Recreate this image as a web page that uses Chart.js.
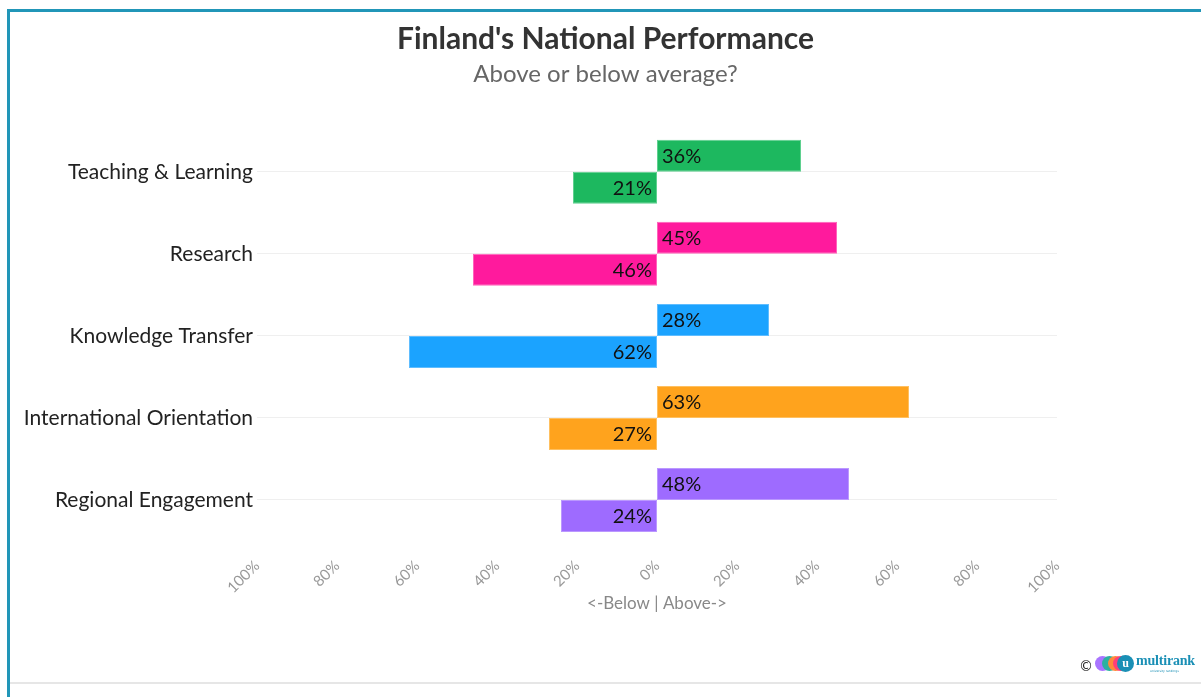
<!DOCTYPE html>
<html>
<head>
<meta charset="utf-8">
<script src="https://cdn.jsdelivr.net/npm/chart.js@4"></script>
<style>
  html, body { margin:0; padding:0; background:#fff; width:1201px; height:697px; overflow:hidden; }
  #frame { position:absolute; left:7px; top:9px; width:1194px; height:688px; border-top:3px solid #2196b8; border-left:3px solid #2196b8; box-sizing:border-box; }
  #bottomline { position:absolute; left:10px; top:682px; width:1191px; height:2px; background:#e6e6e6; }
  #wrap { position:absolute; left:10px; top:12px; width:1191px; height:671px; }
  #logo { position:absolute; left:0; top:0; }
  #logo span { position:absolute; white-space:nowrap; }
  #logo .c { left:1079px; top:658px; font-size:14px; line-height:16px; color:#222; font-family:"DejaVu Sans", sans-serif; }
  #logo .dot { top:656px; width:15px; height:15px; border-radius:50%; }
  #logo .u { left:1117px; top:655px; width:17px; height:17px; border-radius:50%; background:#1a8fb5; color:#fff; font-size:12px; line-height:16px; font-weight:bold; text-align:center; font-family:"Liberation Serif", serif; }
  #logo .name { left:1136px; top:653px; font-family:"Liberation Serif", serif; font-weight:bold; color:#1a8fb5; font-size:14px; line-height:16px; letter-spacing:-0.2px; }
  #logo .tag { left:1150px; top:669px; font-family:"DejaVu Sans", sans-serif; color:#1a8fb5; font-size:3px; line-height:4px; }
</style>
</head>
<body>
<div id="frame"></div>
<div id="bottomline"></div>
<div id="wrap"><canvas id="c" width="1191" height="671"></canvas></div>
<div id="logo">
  <span class="c">©</span>
  <span class="dot" style="left:1095px;background:#a974ff"></span>
  <span class="dot" style="left:1102px;background:#2cb1a0"></span>
  <span class="dot" style="left:1108px;background:#ff8a3a"></span>
  <span class="dot" style="left:1113px;background:#ff3e7a"></span>
  <span class="u">u</span>
  <span class="name">multirank</span>
  <span class="tag">university rankings</span>
</div>
<script>
const categories = ["Teaching & Learning", "Research", "Knowledge Transfer", "International Orientation", "Regional Engagement"];
const aboveValues = [36, 45, 28, 63, 48];
const belowValues = [21, 46, 62, 27, 24];
const barColors = ["#1db85f", "#ff1a9d", "#1ba3ff", "#ffa31d", "#9e6bff"];
const barBorders = ["#5fd08f", "#ff63bb", "#5fbdff", "#ffc060", "#bb98ff"];
const tickValues = [-100, -80, -60, -40, -20, 0, 20, 40, 60, 80, 100];

const FONT = "Lato, 'Source Sans Pro', sans-serif";

const labelPlugin = {
  id: 'barLabels',
  afterDatasetsDraw(chart) {
    const ctx = chart.ctx;
    ctx.save();
    ctx.font = "20px " + FONT;
    ctx.fillStyle = "#111";
    ctx.textBaseline = "middle";
    chart.data.datasets.forEach((ds, di) => {
      const meta = chart.getDatasetMeta(di);
      meta.data.forEach((bar, i) => {
        const v = ds.data[i];
        const txt = Math.abs(v) + "%";
        if (v >= 0) { ctx.textAlign = "left"; ctx.fillText(txt, bar.base + 5, bar.y + 1); }
        else { ctx.textAlign = "right"; ctx.fillText(txt, bar.base - 5, bar.y + 1); }
      });
    });
    ctx.restore();
  }
};

new Chart(document.getElementById('c'), {
  type: 'bar',
  data: {
    labels: categories,
    datasets: [
      { label: "Above", data: aboveValues, backgroundColor: barColors, borderColor: barBorders, borderWidth: 1, borderSkipped: false, categoryPercentage: 0.78, barPercentage: 1 },
      { label: "Below", data: belowValues.map(v => -v), backgroundColor: barColors, borderColor: barBorders, borderWidth: 1, borderSkipped: false, categoryPercentage: 0.78, barPercentage: 1 }
    ]
  },
  options: {
    indexAxis: 'y',
    responsive: false,
    animation: false,
    layout: { padding: { left: 0, right: 0, top: 0, bottom: 52 } },
    plugins: {
      legend: { display: false },
      tooltip: { enabled: false },
      title: { display: true, text: "Finland's National Performance", color: "#333", font: { family: FONT, size: 30, weight: 'bold', lineHeight: 1.2 }, padding: { top: 9, bottom: 3 } },
      subtitle: { display: true, text: "Above or below average?", color: "#666", font: { family: FONT, size: 24, lineHeight: 1.2 }, padding: { top: 0, bottom: 42 } }
    },
    scales: {
      x: {
        min: -100, max: 100,
        afterBuildTicks(s) { s.ticks = tickValues.map(v => ({ value: v })); },
        afterFit(s) { s.height = 90; },
        grid: { display: false, drawTicks: false },
        border: { display: false },
        ticks: { color: "#999", font: { family: FONT, size: 15 }, minRotation: 45, maxRotation: 45, padding: 16, callback: v => Math.abs(v) + "%" },
        title: { display: true, text: "<-Below | Above->", color: "#888", font: { family: FONT, size: 17, lineHeight: 1.2 }, padding: { top: 0, bottom: 17 } }
      },
      y: {
        afterFit(s) { s.width = 247; },
        grid: { offset: false, color: "#efefef", drawTicks: false },
        border: { display: false },
        ticks: { color: "#222", font: { family: FONT, size: 21 }, padding: 4 }
      },
      y2: {
        type: 'category', position: 'right',
        afterFit(s) { s.width = 144; },
        grid: { display: false, drawTicks: false },
        border: { display: false },
        ticks: { display: false }
      }
    }
  },
  plugins: [labelPlugin]
});
</script>
</body>
</html>
